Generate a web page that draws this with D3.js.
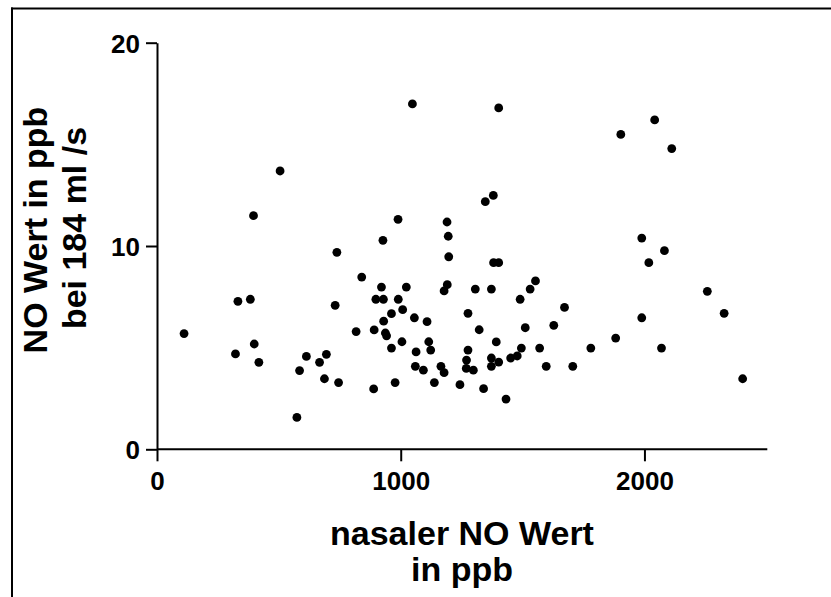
<!DOCTYPE html>
<html>
<head>
<meta charset="utf-8">
<script src="https://cdn.jsdelivr.net/npm/d3@7"></script>
<style>
  html, body { margin: 0; padding: 0; background: #fff; }
  svg { display: block; }
  text { font-family: "Liberation Sans", Arial, Helvetica, sans-serif; font-weight: bold; fill: #000; }
</style>
</head>
<body>
<svg id="chart" width="831" height="597"></svg>
<script>
// nasal NO (ppb) against exhaled NO at 184 ml/s (ppb)
const nasalNO = [
  111, 322, 332, 383, 396, 399, 418, 505, 574, 585,
  613, 667, 687, 695, 731, 738, 745, 817, 840, 889,
  891, 898, 921, 927, 929, 930, 937, 942, 962, 962,
  977, 989, 990, 1005, 1008, 1023, 1048, 1056, 1060, 1063,
  1093, 1108, 1115, 1123, 1138, 1165, 1178, 1178, 1190, 1191,
  1195, 1197, 1243, 1269, 1270, 1276, 1276, 1298, 1306, 1322,
  1340, 1347, 1372, 1372, 1372, 1380, 1381, 1392, 1402, 1402,
  1402, 1432, 1451, 1478, 1490, 1495, 1511, 1531, 1553, 1570,
  1597, 1628, 1672, 1706, 1780, 1882, 1903, 1989, 1989, 2018,
  2042, 2070, 2082, 2112, 2258, 2327, 2403
];
const exhaledNO = [
  5.69, 4.69, 7.28, 7.38, 11.49, 5.18, 4.28, 13.69, 1.57, 3.87,
  4.57, 4.28, 3.47, 4.67, 7.08, 9.69, 3.28, 5.79, 8.47, 2.97,
  5.87, 7.38, 7.98, 10.28, 7.38, 6.30, 5.72, 5.58, 6.67, 4.98,
  3.28, 11.31, 7.38, 5.29, 6.87, 7.98, 16.99, 6.47, 4.08, 4.79,
  3.89, 6.28, 5.29, 4.88, 3.28, 4.08, 3.77, 7.79, 11.18, 8.10,
  10.48, 9.47, 3.18, 3.98, 4.39, 4.88, 6.69, 3.89, 7.88, 5.88,
  2.98, 12.18, 7.88, 4.49, 4.08, 12.49, 9.18, 5.28, 9.18, 4.29,
  16.79, 2.47, 4.49, 4.59, 7.38, 4.98, 5.98, 7.88, 8.28, 4.98,
  4.08, 6.10, 6.98, 4.08, 4.98, 5.47, 15.49, 10.39, 6.47, 9.18,
  16.20, 4.98, 9.77, 14.79, 7.77, 6.69, 3.47
];
const xTicks = [0, 1000, 2000];
const yTicks = [0, 10, 20];
const xTitle = ["nasaler NO Wert", "in ppb"];
const yTitle = ["NO Wert in ppb", "bei 184 ml /s"];

const svg = d3.select("#chart");

// outer frame (top and left edges)
svg.append("line").attr("x1", 11).attr("x2", 831).attr("y1", 8.5).attr("y2", 8.5)
  .attr("stroke", "#000").attr("stroke-width", 2);
svg.append("line").attr("x1", 12).attr("x2", 12).attr("y1", 7.5).attr("y2", 597)
  .attr("stroke", "#000").attr("stroke-width", 2);

const x = d3.scaleLinear().domain([0, 2500]).range([157, 766.3]);
const y = d3.scaleLinear().domain([0, 20]).range([449.3, 42.7]);

const xAxis = svg.append("g")
  .attr("transform", `translate(0,${y(0)})`)
  .call(d3.axisBottom(x).tickValues(xTicks).tickSize(12).tickSizeOuter(0).tickPadding(10)
    .tickFormat(d3.format("d")));
const yAxis = svg.append("g")
  .attr("transform", `translate(${x(0)},0)`)
  .call(d3.axisLeft(y).tickValues(yTicks).tickSize(11).tickSizeOuter(0).tickPadding(6)
    .tickFormat(d3.format("d")));

[xAxis, yAxis].forEach(g => {
  g.selectAll("path.domain").attr("stroke", "#000").attr("stroke-width", 2);
  g.selectAll(".tick line").attr("stroke", "#000").attr("stroke-width", 2);
  g.selectAll(".tick text").attr("fill", "#000")
    .style("font-family", '"Liberation Sans", Arial, sans-serif')
    .style("font-weight", "bold").style("font-size", "26px");
});
xAxis.select("path.domain").attr("d", `M${x(0)},0H${x(2500) + 1}`);
yAxis.selectAll(".tick text").attr("dy", "0.36em");

// data points
const pts = nasalNO.map((v, i) => ({ nx: v, ex: exhaledNO[i] }));
svg.append("g").selectAll("circle").data(pts).join("circle")
  .attr("cx", d => x(d.nx))
  .attr("cy", d => y(d.ex))
  .attr("r", 4.4)
  .attr("fill", "#000");

// axis titles
const xt = svg.append("text").attr("text-anchor", "middle").style("font-size", "34px");
xt.append("tspan").attr("x", 462).attr("y", 545).text(xTitle[0]);
xt.append("tspan").attr("x", 462).attr("y", 581).text(xTitle[1]);

const yt = svg.append("text").attr("text-anchor", "middle").style("font-size", "34px")
  .attr("transform", "rotate(-90)");
yt.append("tspan").attr("x", -230).attr("y", 47).text(yTitle[0]);
yt.append("tspan").attr("x", -228).attr("y", 86).text(yTitle[1]);
</script>
</body>
</html>
